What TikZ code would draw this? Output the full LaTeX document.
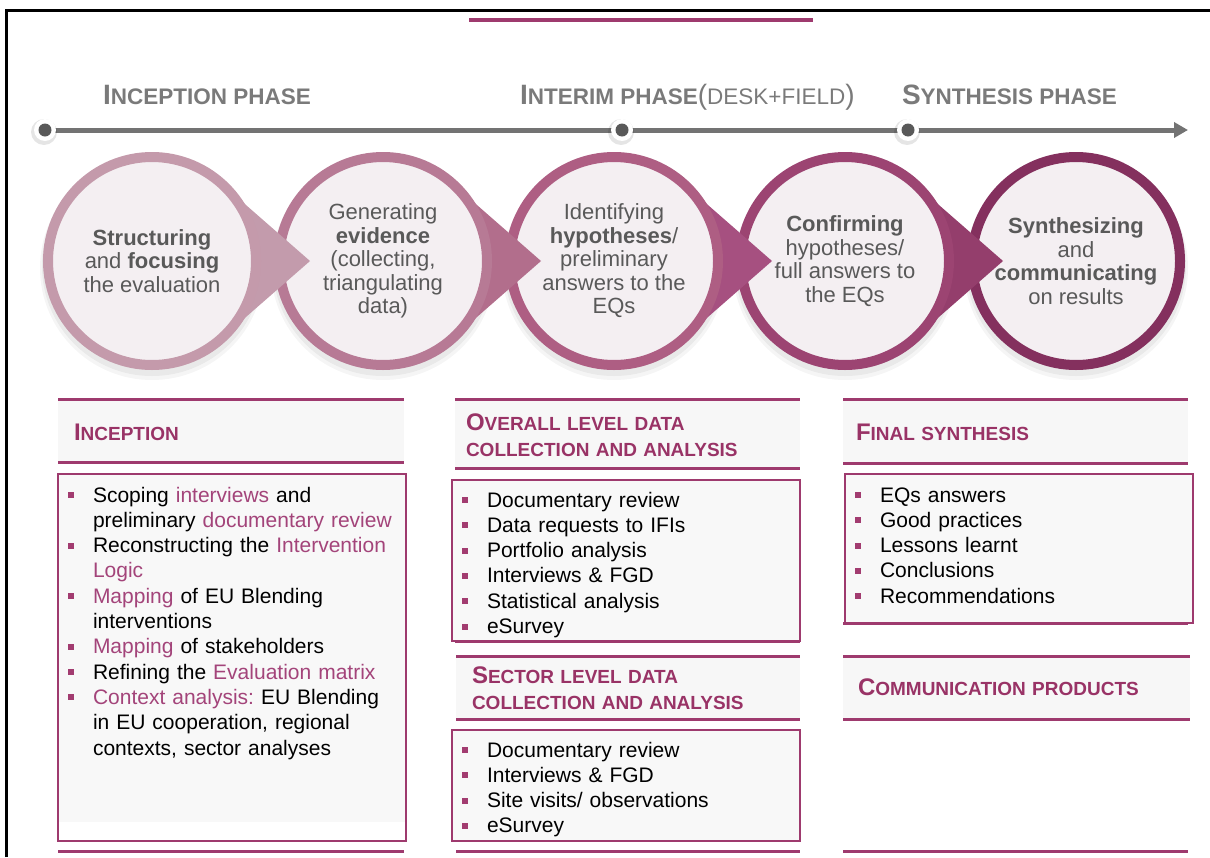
\documentclass[tikz,border=0pt]{standalone}
\usepackage{fontspec}
\setmainfont{Liberation Sans}
\usetikzlibrary{arrows.meta,calc}
\frenchspacing

\definecolor{ringA}{HTML}{C49AAB}
\definecolor{ringB}{HTML}{B77A95}
\definecolor{ringC}{HTML}{AE5E83}
\definecolor{ringD}{HTML}{9C4472}
\definecolor{ringE}{HTML}{84305E}
\definecolor{triA}{HTML}{C39BAC}
\definecolor{triB}{HTML}{B26E8C}
\definecolor{triC}{HTML}{A65080}
\definecolor{triD}{HTML}{943E6C}
\definecolor{innerc}{HTML}{F4EFF2}
\definecolor{txtc}{HTML}{595959}
\definecolor{phasec}{HTML}{7A7A7A}
\definecolor{linec}{HTML}{737373}
\definecolor{magline}{HTML}{9E3A6E}
\definecolor{headc}{HTML}{993366}
\definecolor{hilite}{HTML}{A3447A}
\definecolor{bulletc}{HTML}{A23C70}
\definecolor{bandc}{HTML}{F7F7F7}
\definecolor{boxc}{HTML}{F8F8F8}

\newcommand\fs[2]{\fontsize{#1}{#2}\selectfont}
\newcommand\phasesc[2]{{\fs{28}{30}#1}{\fs{22.5}{30}#2}}
\newcommand\headsc[2]{{\fs{24}{26}#1}{\fs{19}{26}#2}}
\newcommand\hl[1]{\textcolor{hilite}{#1}}
\newcommand\bul{\makebox[25pt][l]{\textcolor{bulletc}{\rule[4pt]{6pt}{6pt}}}}
\newcommand\contind{\hspace*{25pt}}

\begin{document}
\begin{tikzpicture}[x=1pt,y=-1pt,
  every node/.style={inner sep=0pt,outer sep=0pt},
  stepcircle/.style={circle,minimum size=208pt,line width=10pt,fill=innerc,
    align=center,text=txtc,font=\fs{22}{23.5}},
  phase/.style={anchor=base west,text=phasec,font=\bfseries},
  timeline/.style={draw=linec,line width=5pt,-{Triangle[length=14pt,width=15pt]}},
  dotring/.style={circle,fill=white,minimum size=22pt},
  dotcore/.style={circle,fill=txtc,minimum size=13pt},
  hline/.style={draw=magline,line width=3pt},
  boxline/.style={draw=magline,line width=1.3pt},
  headtext/.style={anchor=base west,text=headc,font=\bfseries\fs{19}{26},text width=330pt,align=left},
  listtext/.style={anchor=base west,text=black,font=\fs{21}{25.3},text width=330pt,align=left},
  shade/.style={fill=black,opacity=#1}]
\useasboundingbox (0,0) rectangle (1210,857);

% page frame and title rule
\draw[line width=3pt] (6,857) -- (6,10) -- (1210,10);
\draw[magline,line width=3.5pt] (469,20) -- (813,20);

% timeline
\coordinate (tlstart) at (45,130);
\coordinate (tlend) at (1188,130);
\draw[timeline] (tlstart) -- (tlend);
\foreach \n/\x in {1/45,2/622,3/908}{
  \fill[shade=0.10] (\x-1,132) circle (13);
  \node[dotring] (d\n) at (\x,130) {};
  \node[dotcore] (d\n c) at (d\n) {};
}

% phase labels
\node[phase] (ph1) at (103,104) {\phasesc{I}{NCEPTION PHASE}};
\node[phase] (ph2) at (520,104) {\phasesc{I}{NTERIM PHASE}{\mdseries\phasesc{(}{DESK+FIELD}{\fs{28}{30})}}};
\node[phase] (ph3) at (902,104) {\phasesc{S}{YNTHESIS PHASE}};

% step circles, drawn right to left so each pointer lies over the next circle
\coordinate (o1) at (152,261);
\coordinate (o2) at (383,261);
\coordinate (o3) at (614,261);
\coordinate (o4) at (845,261);
\coordinate (o5) at (1076,261);
\foreach \n in {5,4,3,2,1}{
  \fill[shade=0.05] ($(o\n)+(0,5)$) circle (110);
  \fill[shade=0.04] ($(o\n)+(0,7)$) circle (112);
}
\node[stepcircle,draw=ringE] (c5) at (o5) {\textbf{Synthesizing}\\and\\\textbf{communicating}\\on results};
\fill[triD] ($(o4)+(48:104)$) -- ($(o4)+(158,0)$) -- ($(o4)+(-48:104)$) -- cycle;
\node[stepcircle,draw=ringD] (c4) at (o4) {\textbf{Confirming}\\hypotheses/\\full answers to\\the EQs};
\fill[triC] ($(o3)+(48:104)$) -- ($(o3)+(158,0)$) -- ($(o3)+(-48:104)$) -- cycle;
\node[stepcircle,draw=ringC] (c3) at (o3) {Identifying\\\textbf{hypotheses}/\\preliminary\\answers to the\\EQs};
\fill[triB] ($(o2)+(48:104)$) -- ($(o2)+(158,0)$) -- ($(o2)+(-48:104)$) -- cycle;
\node[stepcircle,draw=ringB] (c2) at (o2) {Generating\\\textbf{evidence}\\(collecting,\\triangulating\\data)};
\fill[triA] ($(o1)+(48:104)$) -- ($(o1)+(158,0)$) -- ($(o1)+(-48:104)$) -- cycle;
\node[stepcircle,draw=ringA] (c1) at (o1) {\textbf{Structuring}\\and \textbf{focusing}\\the evaluation};

% column 1: inception
\fill[bandc] (58,399) rectangle (404,462);
\draw[hline] (58,399) -- (404,399);
\draw[hline] (58,462) -- (404,462);
\node[headtext] (h1) at (74,440) {\headsc{I}{NCEPTION}};
\fill[boxc] (58,474) rectangle (406,822);
\draw[boxline] (58,474) rectangle (406,841);
\draw[hline] (58,851) -- (404,851);
\node[listtext,text width=340pt] (l1) at (68,502) {%
\bul Scoping \hl{interviews} and\\
\contind preliminary \hl{documentary review}\\
\bul Reconstructing the \hl{Intervention}\\
\contind\hl{Logic}\\
\bul\hl{Mapping} of EU Blending\\
\contind interventions\\
\bul\hl{Mapping} of stakeholders\\
\bul Refining the \hl{Evaluation matrix}\\
\bul\hl{Context analysis:} EU Blending\\
\contind in EU cooperation, regional\\
\contind contexts, sector analyses};

% column 2: overall and sector level data collection
\fill[bandc] (455,399) rectangle (800,468);
\draw[hline] (455,399) -- (800,399);
\draw[hline] (455,468) -- (800,468);
\node[headtext] (h2a) at (466,430) {\headsc{O}{VERALL LEVEL DATA}\\COLLECTION AND ANALYSIS};
\fill[boxc] (452,480) rectangle (800,641);
\draw[boxline] (452,480) rectangle (800,641);
\draw[hline] (455,641) -- (800,641);
\node[listtext] (l2a) at (462,507) {%
\bul Documentary review\\
\bul Data requests to IFIs\\
\bul Portfolio analysis\\
\bul Interviews \& FGD\\
\bul Statistical analysis\\
\bul eSurvey};

\fill[bandc] (456,656) rectangle (800,719);
\draw[hline] (456,656) -- (800,656);
\draw[hline] (456,719) -- (800,719);
\node[headtext] (h2b) at (472,683) {\headsc{S}{ECTOR LEVEL DATA}\\COLLECTION AND ANALYSIS};
\fill[boxc] (452,730) rectangle (800,841);
\draw[boxline] (452,730) rectangle (800,841);
\draw[hline] (456,851) -- (800,851);
\node[listtext] (l2b) at (462,757) {%
\bul Documentary review\\
\bul Interviews \& FGD\\
\bul Site visits/ observations\\
\bul eSurvey};

% column 3: final synthesis and communication products
\fill[bandc] (843,399) rectangle (1188,463);
\draw[hline] (843,399) -- (1188,399);
\draw[hline] (843,463) -- (1188,463);
\node[headtext] (h3a) at (856,440) {\headsc{F}{INAL SYNTHESIS}};
\fill[boxc] (845,474) rectangle (1193,623);
\draw[boxline] (845,474) rectangle (1193,623);
\draw[hline] (843,623) -- (1188,623);
\node[listtext] (l3) at (855,502) {%
\bul EQs answers\\
\bul Good practices\\
\bul Lessons learnt\\
\bul Conclusions\\
\bul Recommendations};

\fill[bandc] (843,656) rectangle (1190,719);
\draw[hline] (843,656) -- (1190,656);
\draw[hline] (843,719) -- (1190,719);
\node[headtext] (h3b) at (858,695) {\headsc{C}{OMMUNICATION PRODUCTS}};
\draw[hline] (843,851) -- (1188,851);
\end{tikzpicture}
\end{document}
